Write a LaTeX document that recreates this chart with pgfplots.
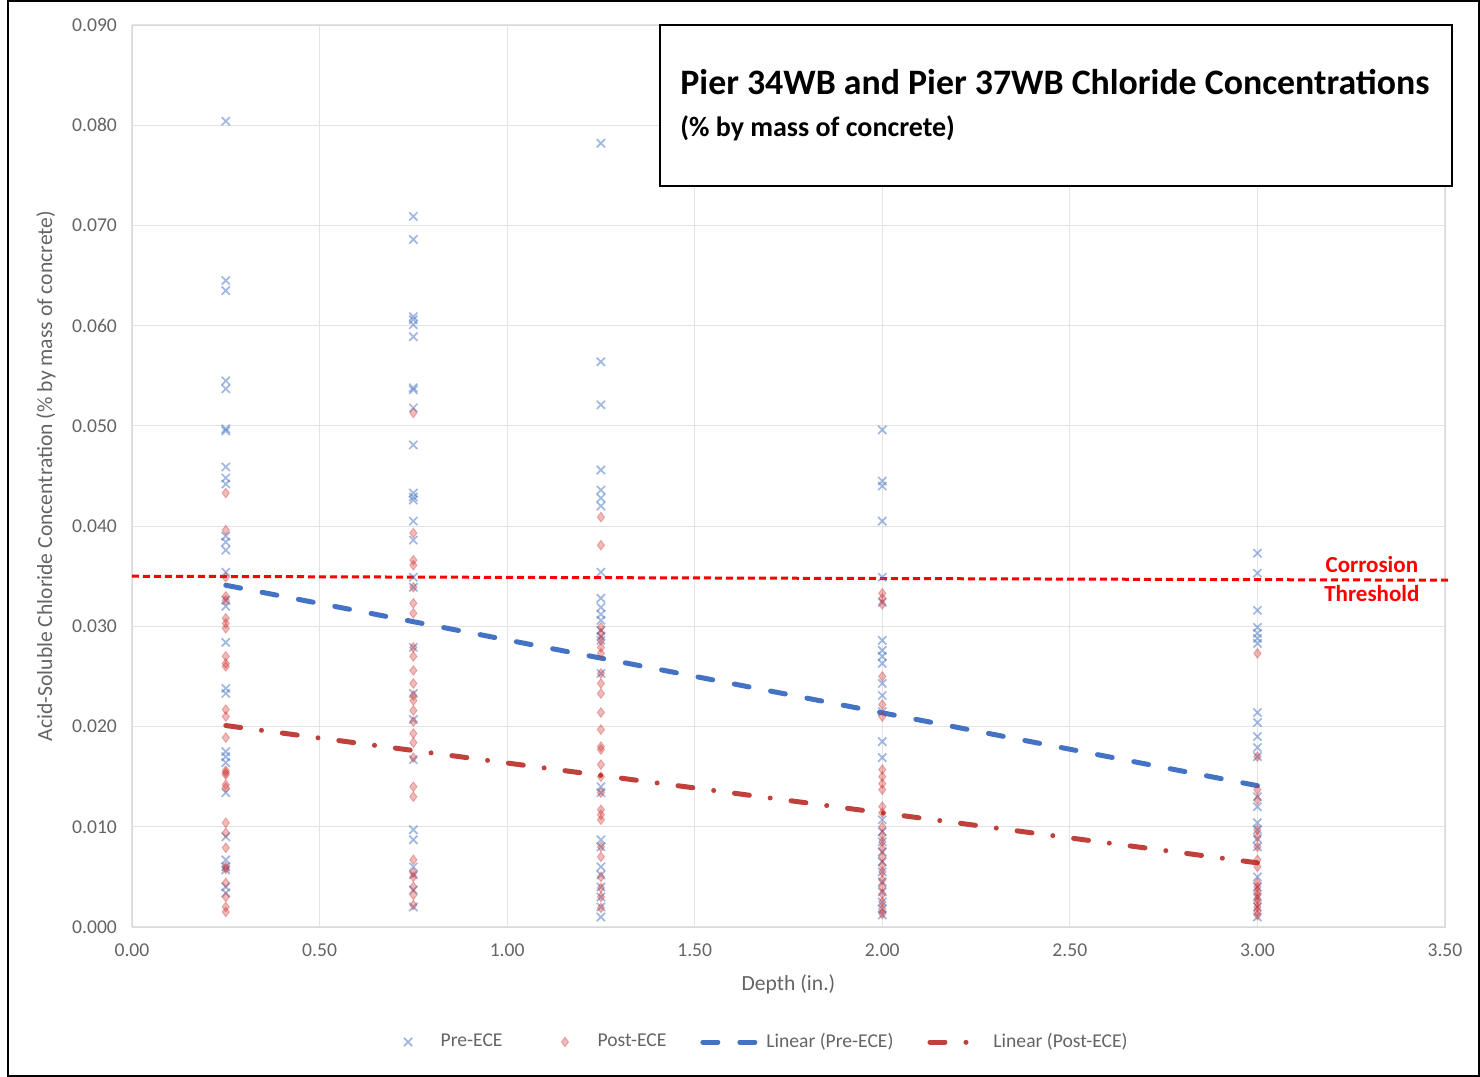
\documentclass[border=0pt]{standalone}
\usepackage{fontspec}
\setmainfont{Carlito}
\usepackage{pgfplots}
\pgfplotsset{compat=1.18}
\pgfplotsset{markleg/.style={legend image code/.code={\path[draw=none,fill=none] (0pt,0pt) -- (28.5pt,0pt); \draw[##1] plot coordinates {(14.25pt,0pt)};}}}
\definecolor{preblue}{RGB}{68,114,196}
\definecolor{postred}{RGB}{205,40,40}
\definecolor{trendred}{RGB}{192,64,60}
\definecolor{txtgray}{RGB}{100,100,100}
\begin{document}
\begin{tikzpicture}[x=1pt,y=1pt]
\useasboundingbox (0,0) rectangle (740,538.5);
\begin{axis}[
 at={(66pt,75pt)}, anchor=south west,
 scale only axis, width=656.5pt, height=451pt,
 xmin=0, xmax=3.5, ymin=0, ymax=0.09,
 xtick={0,0.5,1,1.5,2,2.5,3,3.5},
 ytick={0,0.01,0.02,0.03,0.04,0.05,0.06,0.07,0.08,0.09},
 scaled y ticks=false, scaled x ticks=false,
 yticklabel style={/pgf/number format/fixed, /pgf/number format/fixed zerofill, /pgf/number format/precision=3, xshift=-4pt},
 xticklabel style={/pgf/number format/fixed, /pgf/number format/fixed zerofill, /pgf/number format/precision=2, yshift=-5pt},
 /pgf/number format/assume math mode=true,
 tick label style={font=\fontsize{9.8}{11}\selectfont, text=txtgray},
 major tick length=0,
 grid=major, grid style={gray!22, line width=0.6pt},
 axis line style={gray!30},
 xlabel={Depth (in.)},
 ylabel={Acid-Soluble Chloride Concentration (\% by mass of concrete)},
 label style={font=\fontsize{10.8}{12}\selectfont, text=txtgray},
 xlabel style={at={(axis description cs:0.5,-0.0632)}, anchor=center},
 ylabel style={at={(axis description cs:-0.0655,0.5)}, anchor=center},
 legend image code/.code={\draw[mark repeat=2,mark phase=2,#1] plot coordinates {(0pt,0pt) (14.25pt,0pt) (28.5pt,0pt)};},
 legend style={at={(axis description cs:0.475,-0.1275)}, anchor=center, draw=none, fill=none,
   legend columns=-1, font=\fontsize{9.8}{11}\selectfont, text=txtgray,
   /tikz/every even column/.append style={column sep=15pt}},
 clip=false,
]
\addplot[only marks, mark=x, mark size=2.9pt, draw=preblue, draw opacity=0.5, line width=0.85pt, markleg] coordinates {
(0.25,0.0804) (0.25,0.0645) (0.25,0.0635) (0.25,0.0545) (0.25,0.0537) (0.25,0.0497) (0.25,0.0495)
(0.25,0.0459) (0.25,0.0448) (0.25,0.0442) (0.25,0.0390) (0.25,0.0384) (0.25,0.0376) (0.25,0.0354)
(0.25,0.0326) (0.25,0.0320) (0.25,0.0284) (0.25,0.0238) (0.25,0.0233) (0.25,0.0175) (0.25,0.0170)
(0.25,0.0164) (0.25,0.0134) (0.25,0.0090) (0.25,0.0067) (0.25,0.0060) (0.25,0.0057) (0.25,0.0040) (0.25,0.0034)
(0.75,0.0709) (0.75,0.0686) (0.75,0.0609) (0.75,0.0606) (0.75,0.0601) (0.75,0.0589) (0.75,0.0538)
(0.75,0.0536) (0.75,0.0518) (0.75,0.0481) (0.75,0.0433) (0.75,0.0429) (0.75,0.0426) (0.75,0.0405)
(0.75,0.0386) (0.75,0.0349) (0.75,0.0339) (0.75,0.0279) (0.75,0.0233) (0.75,0.0207) (0.75,0.0167)
(0.75,0.0097) (0.75,0.0087) (0.75,0.0060) (0.75,0.0052) (0.75,0.0037) (0.75,0.0020)
(1.25,0.0782) (1.25,0.0564) (1.25,0.0521) (1.25,0.0456) (1.25,0.0436) (1.25,0.0428) (1.25,0.0420)
(1.25,0.0354) (1.25,0.0328) (1.25,0.0319) (1.25,0.0312) (1.25,0.0306) (1.25,0.0296) (1.25,0.0290)
(1.25,0.0286) (1.25,0.0253) (1.25,0.0140) (1.25,0.0134) (1.25,0.0087) (1.25,0.0080) (1.25,0.0060)
(1.25,0.0052) (1.25,0.0040) (1.25,0.0030) (1.25,0.0020) (1.25,0.0010)
(2,0.0496) (2,0.0445) (2,0.0440) (2,0.0405) (2,0.0349) (2,0.0324) (2,0.0286) (2,0.0276) (2,0.0270)
(2,0.0263) (2,0.0243) (2,0.0231) (2,0.0215) (2,0.0185) (2,0.0169) (2,0.0107) (2,0.0095) (2,0.0085)
(2,0.0075) (2,0.0065) (2,0.0055) (2,0.0045) (2,0.0035) (2,0.0025) (2,0.0018) (2,0.0012)
(3,0.0373) (3,0.0353) (3,0.0316) (3,0.0299) (3,0.0293) (3,0.0288) (3,0.0283) (3,0.0214) (3,0.0204)
(3,0.0190) (3,0.0179) (3,0.0170) (3,0.0130) (3,0.0120) (3,0.0104) (3,0.0097) (3,0.0088) (3,0.0080)
(3,0.0050) (3,0.0040) (3,0.0030) (3,0.0020) (3,0.0010)
};
\addlegendentry{Pre-ECE}
\addplot[only marks, mark=diamond*, mark size=2.4pt, mark options={draw=postred, draw opacity=0.3, fill=postred, fill opacity=0.32, line width=0.5pt}, markleg] coordinates {
(0.25,0.0433) (0.25,0.0396) (0.25,0.0349) (0.25,0.0330) (0.25,0.0326) (0.25,0.0308) (0.25,0.0303)
(0.25,0.0298) (0.25,0.0270) (0.25,0.0263) (0.25,0.0260) (0.25,0.0217) (0.25,0.0210) (0.25,0.0189)
(0.25,0.0156) (0.25,0.0154) (0.25,0.0152) (0.25,0.0142) (0.25,0.0139) (0.25,0.0104) (0.25,0.0094)
(0.25,0.0079) (0.25,0.0060) (0.25,0.0058) (0.25,0.0044) (0.25,0.0030) (0.25,0.0020) (0.25,0.0015)
(0.75,0.0513) (0.75,0.0393) (0.75,0.0366) (0.75,0.0361) (0.75,0.0339) (0.75,0.0323) (0.75,0.0313)
(0.75,0.0279) (0.75,0.0270) (0.75,0.0256) (0.75,0.0243) (0.75,0.0231) (0.75,0.0226) (0.75,0.0216)
(0.75,0.0205) (0.75,0.0193) (0.75,0.0184) (0.75,0.0169) (0.75,0.0140) (0.75,0.0130) (0.75,0.0067)
(0.75,0.0054) (0.75,0.0050) (0.75,0.0040) (0.75,0.0032) (0.75,0.0022)
(1.25,0.0409) (1.25,0.0381) (1.25,0.0299) (1.25,0.0293) (1.25,0.0286) (1.25,0.0279) (1.25,0.0273)
(1.25,0.0253) (1.25,0.0243) (1.25,0.0233) (1.25,0.0214) (1.25,0.0197) (1.25,0.0180) (1.25,0.0177)
(1.25,0.0162) (1.25,0.0150) (1.25,0.0134) (1.25,0.0117) (1.25,0.0112) (1.25,0.0107) (1.25,0.0080)
(1.25,0.0070) (1.25,0.0050) (1.25,0.0039) (1.25,0.0030) (1.25,0.0019)
(2,0.0333) (2,0.0328) (2,0.0322) (2,0.0250) (2,0.0222) (2,0.0210) (2,0.0157) (2,0.0150) (2,0.0143)
(2,0.0137) (2,0.0120) (2,0.0114) (2,0.0100) (2,0.0092) (2,0.0085) (2,0.0078) (2,0.0070) (2,0.0062)
(2,0.0055) (2,0.0047) (2,0.0040) (2,0.0033) (2,0.0025) (2,0.0018) (2,0.0013)
(3,0.0273) (3,0.0170) (3,0.0137) (3,0.0127) (3,0.0097) (3,0.0090) (3,0.0080) (3,0.0067) (3,0.0060)
(3,0.0044) (3,0.0040) (3,0.0036) (3,0.0032) (3,0.0028) (3,0.0024) (3,0.0020) (3,0.0016) (3,0.0012)
};
\addlegendentry{Post-ECE}
\addplot[preblue, line width=2.5pt, dash pattern=on 7.5pt off 11pt, line cap=round] coordinates {(0.25,0.0341) (3,0.0141)};
\addlegendentry{Linear (Pre-ECE)}
\addplot[trendred, line width=2.5pt, dash pattern=on 7.5pt off 10.5pt on 0.01pt off 10.5pt, line cap=round] coordinates {(0.25,0.0201) (3,0.0064)};
\addlegendentry{Linear (Post-ECE)}
\addplot[red, line width=1.5pt, dash pattern=on 3.5pt off 2pt, forget plot] coordinates {(0,0.0350) (3.51,0.0346)};
\node[align=center, text=red, font=\bfseries\fontsize{11.5}{14.5}\selectfont] at (axis cs:3.305,0.03468) {Corrosion\\Threshold};
\end{axis}
\draw[line width=0.8pt, fill=white] (330,445.5) rectangle (726,526);
\node[anchor=base west, inner sep=0, font=\bfseries\fontsize{17.9}{20}\selectfont] at (340,491) {Pier 34WB and Pier 37WB Chloride Concentrations};
\node[anchor=base west, inner sep=0, font=\bfseries\fontsize{14}{16}\selectfont] at (340,470) {(\% by mass of concrete)};
\draw[line width=1pt] (4,0.5) rectangle (739.5,538);
\end{tikzpicture}
\end{document}
